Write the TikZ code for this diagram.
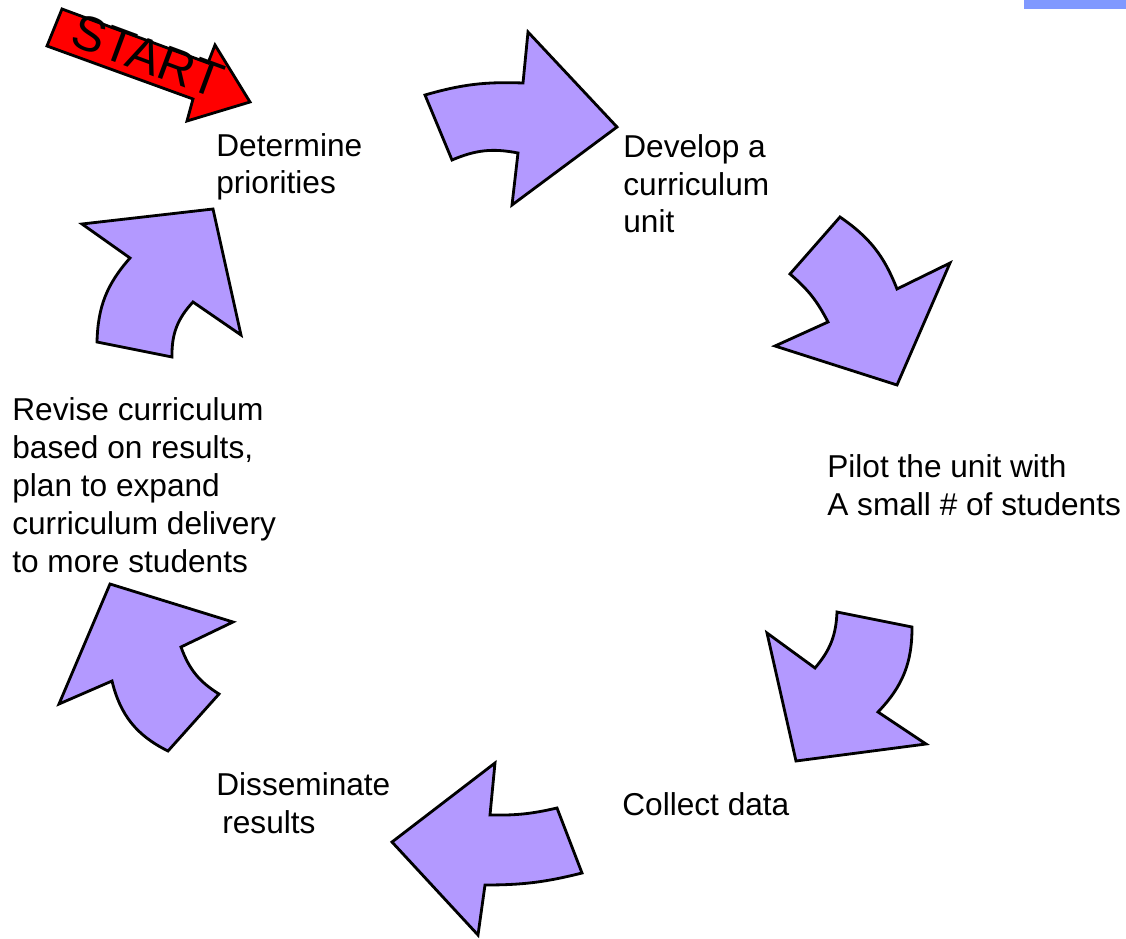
\documentclass[tikz,border=0pt]{standalone}
\usepackage{fontspec}
\setmainfont{Liberation Sans}
\definecolor{cyclefill}{RGB}{179,153,255}
\definecolor{startred}{RGB}{255,0,0}
\definecolor{barblue}{RGB}{128,153,255}
\tikzset{
  stage/.style={anchor=base west, align=left, inner sep=0pt,
    font=\fontsize{18}{21.6}\selectfont},
  cyclearrow/.style={fill=cyclefill, draw=black, line width=1.6pt, line join=miter},
  startarrow/.style={fill=startred, draw=black, line width=1.6pt, line join=miter},
}
\begin{document}
\begin{tikzpicture}[x=0.02cm,y=-0.02cm]
  \useasboundingbox (0,0) rectangle (1126,939);
  \fill[barblue] (1024,0) rectangle (1126,9);
  % stage texts, placed by the baseline of their last line
  \path
    (216,194) node[stage] (prio){Determine\\priorities}
    (623,233) node[stage] (develop){Develop a\\curriculum\\unit}
    (827,515) node[stage] (pilot){Pilot the unit with\\A small \# of students}
    (622,815) node[stage] (collect){Collect data}
    (216,833) node[stage] (dissem){Disseminate\\\hspace*{0.12cm}results}
    (12,572) node[stage] (revise){Revise curriculum\\based on results,\\plan to expand\\curriculum delivery\\to more students};
  \begin{scope}
    \draw[cyclearrow] (425,95) to[bend left=9] (523,83) -- (528,32) -- (617,127)
      -- (512,205) -- (518,153) to[bend right=17] (452,160) -- cycle;
    \draw[cyclearrow] (840,217) to[bend left=17] (897,289) -- (950,263) -- (897,385)
      -- (775,346) -- (828,322) to[bend right=11] (790,274) -- cycle;
    \draw[cyclearrow] (912,627) to[bend left=22] (878,712) -- (926,744) -- (796,761)
      -- (767,633) -- (815,668) to[bend right=19] (837,612) -- cycle;
    \draw[cyclearrow] (582,873) to[bend left=7] (485,885) -- (478,935) -- (392,842)
      -- (495,763) -- (490,815) to[bend right=7] (557,808) -- cycle;
    \draw[cyclearrow] (168,751) to[bend left=25] (112,681) -- (59,704) -- (110,584)
      -- (233,622) -- (181,647) to[bend right=19] (219,694) -- cycle;
    \draw[cyclearrow] (97,342) to[bend left=20] (130,258) -- (82,224) -- (213,209)
      -- (241,335) -- (193,302) to[bend right=22] (172,357) -- cycle;
  \end{scope}
  \draw[startarrow] (62,9) -- (47,46) -- (193,99) -- (187,121) -- (250,102)
    -- (215,45) -- (208,63) -- cycle;
  \node[rotate=-20.3, inner sep=0pt, text height=0.716em, text depth=0pt,
    font=\fontsize{28}{33}\selectfont] (start) at (144,66) {START};
\end{tikzpicture}
\end{document}
